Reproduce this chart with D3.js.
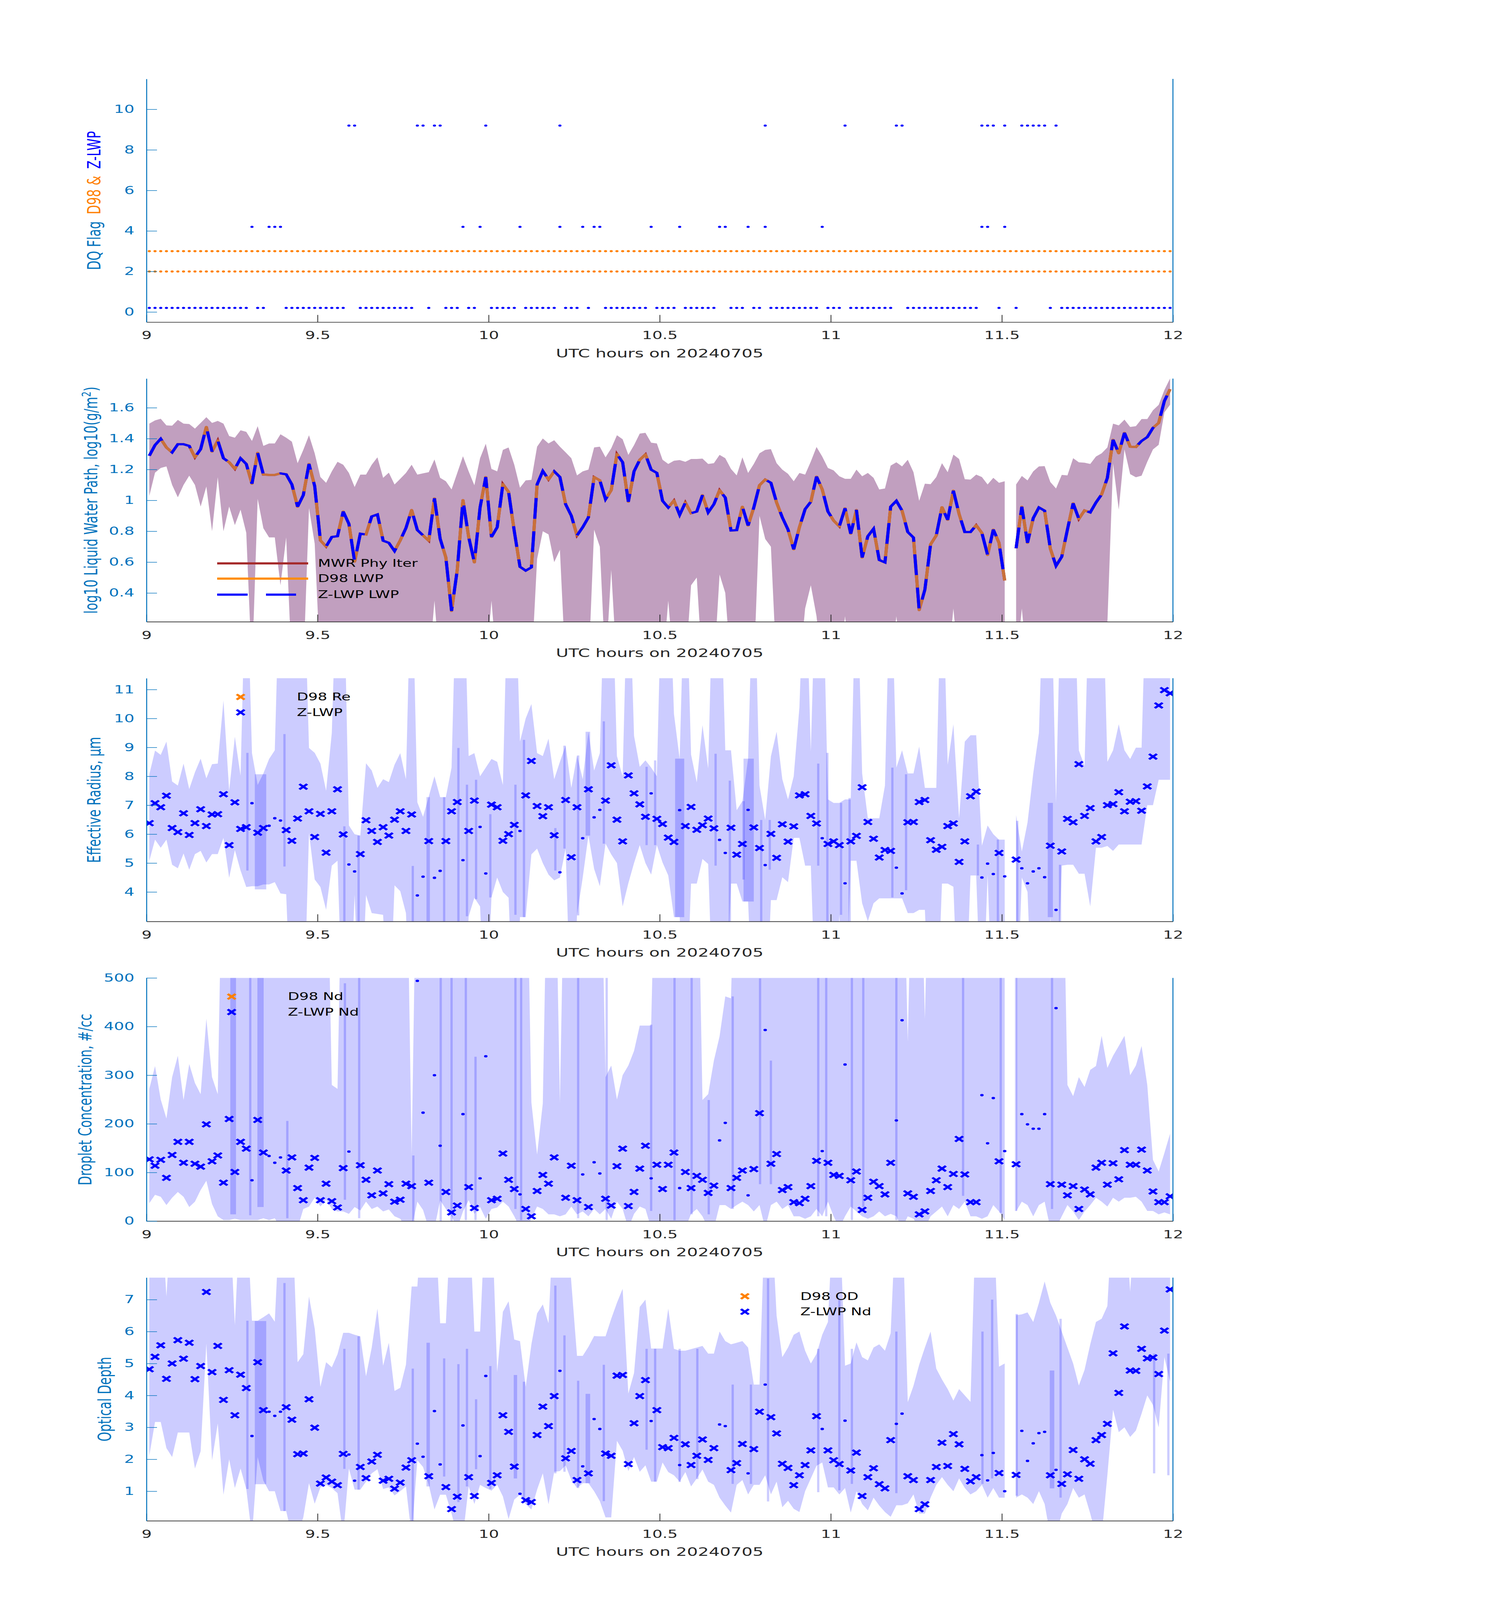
<!DOCTYPE html>
<html>
<head>
<meta charset="utf-8">
<script src="https://cdn.jsdelivr.net/npm/d3@7"></script>
<style>html,body{margin:0;padding:0;background:#fff;overflow:hidden}svg{display:block}</style>
</head>
<body>
<script>
// ---- time grid: one sample per minute, centred on the minute, 09:00-12:00 UTC
const nMin = 180;
const startHour = 9;
const xTicks = [9, 9.5, 10, 10.5, 11, 11.5, 12];

// ---- panel 1: quality flags
const d98FlagLevels = [2, 3];
const zFlagOffset = 0.2;
const zFlag4 = [18,21,22,23,55,58,65,72,76,78,79,88,93,100,101,105,108,118,146,147,150];
const zFlag9 = [35,36,47,48,50,51,59,72,108,122,131,132,146,147,148,150,153,154,155,156,157,159];
const noData = [151];

// ---- panel 2: log10 LWP
const lwpZ = [1.289,1.358,1.399,1.343,1.311,1.364,1.364,1.353,1.279,1.332,
 1.476,1.316,1.388,1.273,1.247,1.204,1.273,1.236,1.108,1.308,
 1.167,1.165,1.165,1.175,1.169,1.103,0.959,1.034,1.236,1.092,
 0.741,0.701,0.763,0.768,0.928,0.848,0.603,0.784,0.779,0.896,
 0.909,0.739,0.725,0.672,0.741,0.821,0.938,0.808,0.773,0.739,
 1.013,0.752,0.630,0.284,0.550,1.002,0.763,0.598,0.954,1.151,
 0.763,0.826,1.105,1.055,0.800,0.570,0.545,0.566,1.103,1.190,
 1.135,1.188,1.151,0.975,0.901,0.773,0.826,0.890,1.151,1.130,
 1.007,1.066,1.300,1.247,0.991,1.188,1.263,1.298,1.199,1.178,
 0.997,0.954,0.999,0.906,0.986,0.917,0.928,1.034,0.922,0.975,
 1.066,1.018,0.805,0.807,0.959,0.837,0.954,1.098,1.135,1.114,
 0.986,0.890,0.811,0.683,0.826,0.943,0.991,1.154,1.071,0.928,
 0.869,0.832,0.949,0.784,0.938,0.630,0.768,0.816,0.614,0.598,
 0.959,0.997,0.933,0.795,0.759,0.289,0.422,0.715,0.773,0.956,
 0.874,1.063,0.912,0.795,0.795,0.839,0.789,0.646,0.811,0.725,
 0.481,null,0.690,0.959,0.725,0.885,0.954,0.933,0.688,0.576,
 0.635,0.811,0.981,0.880,0.935,0.922,0.986,1.039,1.146,1.393,
 1.305,1.438,1.348,1.346,1.385,1.410,1.470,1.502,1.644,1.720];
const lwpD98 = lwpZ;   // D98 and MWR retrievals sit under the Z-LWP curve
const lwpMwr = lwpZ;
const lwpUp = [1.497,1.518,1.529,1.486,1.484,1.521,1.497,1.495,1.465,1.502,
 1.539,1.502,1.515,1.497,1.417,1.406,1.454,1.444,1.385,1.481,
 1.353,1.369,1.369,1.428,1.406,1.380,1.241,1.327,1.422,1.305,
 1.151,1.114,1.188,1.250,1.231,1.178,1.087,1.167,1.167,1.231,
 1.279,1.146,1.180,1.103,1.140,1.178,1.231,1.167,1.175,1.183,
 1.265,1.146,1.124,1.071,1.178,1.286,1.188,1.098,1.273,1.367,
 1.204,1.188,1.327,1.343,1.231,1.082,1.130,1.133,1.348,1.401,
 1.369,1.390,1.348,1.311,1.273,1.162,1.188,1.199,1.343,1.348,
 1.279,1.337,1.422,1.396,1.295,1.358,1.433,1.438,1.374,1.369,
 1.263,1.236,1.257,1.261,1.250,1.268,1.268,1.271,1.236,1.241,
 1.295,1.273,1.204,1.162,1.279,1.178,1.236,1.305,1.327,1.332,
 1.241,1.199,1.172,1.124,1.178,1.167,1.252,1.346,1.284,1.210,
 1.194,1.156,1.140,1.140,1.199,1.156,1.178,1.146,1.071,1.077,
 1.225,1.247,1.220,1.263,1.183,0.997,1.108,1.105,1.151,1.241,
 1.183,1.297,1.268,1.137,1.135,1.167,1.151,1.103,1.146,1.114,
 1.124,null,1.103,1.158,1.130,1.188,1.220,1.222,1.119,1.077,
 1.165,1.162,1.273,1.247,1.244,1.236,1.284,1.305,1.343,1.497,
 1.486,1.523,1.476,1.481,1.527,1.527,1.584,1.619,1.715,1.790];
const lwpLo = [1.03,1.18,1.21,1.22,1.10,1.02,1.10,1.16,1.10,0.96,
 1.09,0.80,1.15,0.80,0.96,0.84,0.94,0.79,-0.1,1.01,
 0.82,0.76,0.76,0.45,0.76,-0.1,-0.1,-0.1,0.95,0.72,
 -0.1,-0.1,-0.1,-0.1,-0.1,-0.1,-0.1,-0.1,-0.1,-0.1,
 -0.1,-0.1,-0.1,-0.1,-0.1,-0.1,-0.1,-0.1,-0.1,-0.1,
 0.35,-0.1,-0.1,-0.1,-0.1,-0.1,-0.1,-0.1,-0.1,-0.1,
 0.35,-0.1,-0.1,-0.1,-0.1,-0.1,-0.1,-0.1,0.62,0.80,
 0.78,0.60,0.68,-0.1,-0.1,-0.1,-0.1,-0.1,0.81,0.70,
 -0.1,0.55,-0.1,-0.1,-0.1,-0.1,-0.1,-0.1,-0.1,-0.1,
 -0.1,0.35,-0.1,-0.1,-0.1,0.45,0.50,-0.1,-0.1,-0.1,
 0.52,0.40,-0.1,-0.1,-0.1,-0.1,-0.1,0.90,0.75,0.70,
 -0.1,-0.1,-0.1,-0.1,-0.1,0.30,0.45,0.25,-0.1,-0.1,
 -0.1,-0.1,0.25,-0.1,-0.1,-0.1,-0.1,-0.1,-0.1,-0.1,
 -0.1,0.25,-0.1,-0.1,-0.1,-0.1,-0.1,-0.1,-0.1,-0.1,
 -0.1,0.30,-0.1,-0.1,-0.1,-0.1,-0.1,-0.1,-0.1,-0.1,
 -0.1,null,-0.1,0.30,-0.1,-0.1,-0.1,-0.1,-0.1,-0.1,
 -0.1,-0.1,-0.1,-0.1,-0.1,-0.1,-0.1,-0.1,0.20,1.24,
 0.94,1.33,1.17,1.15,1.16,1.25,1.33,1.36,1.57,1.62];

// ---- panel 3: effective radius (um)
const reZ = [6.38,7.07,6.93,7.33,6.21,6.07,6.72,5.97,6.38,6.86,
 6.28,6.68,6.69,7.38,5.62,7.10,6.18,6.24,7.07,6.05,
 6.21,6.29,6.55,6.47,6.14,5.77,6.54,7.64,6.79,5.90,
 6.70,5.36,6.79,7.55,5.99,4.95,4.71,5.31,6.48,6.11,
 5.73,6.24,5.95,6.50,6.79,6.11,6.68,3.88,4.53,5.76,
 4.49,4.73,5.76,6.79,7.11,5.10,6.11,7.16,6.25,4.64,
 7.02,6.93,5.77,6.00,6.32,6.11,7.34,8.53,6.97,6.62,
 6.93,5.96,4.68,7.18,5.20,6.93,5.86,7.55,6.58,6.84,
 7.16,8.38,6.50,5.75,8.03,7.41,7.03,6.60,7.41,6.53,
 6.35,5.88,5.73,6.83,6.28,6.94,6.15,6.31,6.54,6.20,
 5.80,5.35,6.22,5.29,5.66,6.84,6.23,5.52,4.93,6.01,
 5.18,6.34,5.74,6.27,7.34,7.38,6.63,6.37,5.86,5.66,
 5.75,5.62,4.30,5.75,5.94,7.62,6.42,5.84,5.19,5.45,
 5.42,4.84,3.95,6.41,6.42,7.11,7.18,5.79,5.46,5.56,
 6.28,6.37,5.04,5.75,7.31,7.47,4.50,4.98,4.62,5.35,
 4.54,null,5.12,4.82,4.30,4.71,4.82,4.51,5.60,3.38,
 5.40,6.53,6.41,8.42,6.63,6.90,5.75,5.90,7.00,7.04,
 7.45,6.79,7.12,7.14,6.81,7.65,8.68,10.45,10.98,10.87];
const reUp = [8.07,8.89,8.74,9.20,7.82,7.68,8.44,7.56,8.14,8.61,
 7.93,8.42,8.44,10.62,7.50,9.37,8.02,16,8.80,7.70,
 8.10,8.60,8.90,16,16,16,16,16,8.98,8.81,
 8.44,7.50,9.50,16,16,6.30,6.00,5.95,8.45,8.20,
 7.60,7.90,7.80,8.40,8.80,7.90,16,7.10,6.60,7.30,
 8.00,7.28,7.28,8.30,16,16,8.70,8.80,8.00,8.30,
 8.60,8.50,7.70,16,16,9.20,10.00,10.50,8.80,8.70,
 9.30,7.90,8.50,9.06,7.60,8.72,7.90,9.54,8.20,8.80,
 16,16,8.70,8.00,16,9.40,8.33,8.55,8.30,8.00,
 16,16,10.16,8.60,16,8.75,7.79,9.77,8.27,16,
 16,8.90,8.90,6.83,7.14,8.61,16,7.68,6.49,8.69,
 9.54,7.90,7.20,8.00,10.39,16,8.86,16,16,7.20,
 7.08,7.08,7.20,7.20,16,8.10,6.55,6.55,6.55,7.68,
 16,8.30,8.90,8.10,8.10,9.03,7.60,7.60,7.60,16,
 8.40,9.80,6.55,9.20,9.42,9.42,5.60,6.30,6.00,5.81,
 5.81,null,6.66,5.40,6.40,8.10,9.50,16,16,7.08,
 16,16,16,8.90,8.36,16,16,16,8.50,8.90,
 9.80,8.90,8.60,8.99,8.99,16,16,16,16,16];
const reLo = [5.08,5.81,5.53,5.81,4.94,4.82,5.33,4.77,5.31,5.42,
 5.02,5.31,5.31,5.87,4.49,5.45,4.74,4.17,4.20,4.20,
 4.26,4.26,4.34,3.95,3.92,-1,-1,-1,6.04,4.43,
 4.17,3.38,4.91,5.08,-1,-1,3.90,-1,3.89,3.27,
 3.24,3.21,-1,4.23,4.03,3.27,-1,-1,-1,-1,
 -1,-1,-1,-1,-1,-1,3.16,3.80,3.50,-1,
 3.81,4.50,4.00,3.80,-1,3.13,3.13,5.30,5.50,5.00,
 4.60,4.40,4.50,5.50,-1,3.19,4.50,5.95,4.80,4.20,
 5.67,5.30,5.00,3.50,4.30,5.00,5.62,5.00,4.60,5.62,
 5.02,4.57,3.13,3.13,-1,4.29,4.29,5.14,4.97,-1,
 -1,-1,4.29,4.29,3.67,3.67,-1,-1,-1,3.72,
 3.72,4.51,4.34,5.87,5.87,4.91,4.91,-1,-1,-1,
 -1,3.21,-1,5.08,5.08,3.61,2.99,3.61,3.78,3.78,
 3.78,3.78,3.78,3.27,3.27,3.38,3.38,-1,-1,4.29,
 4.29,4.18,-1,-1,4.57,4.57,-1,4.60,-1,-1,
 -1,null,-1,4.50,4.00,-1,-1,-1,3.13,-1,
 4.91,4.94,4.94,4.63,4.63,3.50,5.53,5.53,5.59,5.42,
 5.64,5.64,5.64,5.64,5.64,7.00,7.00,7.88,7.88,7.88];
// overlapping uncertainty patches: [minute position, low, high, width in minutes]
const reBars = [[17.7,4.74,8.81,0.4],[20.0,4.09,8.07,2.0],[24.2,4.88,9.46,0.4],[34.7,-1,6.27,0.4],
 [37.2,-1,5.95,0.4],[46.7,-1,4.90,0.4],[49.4,-1,7.28,0.6],[52.2,-1,7.28,0.4],[54.7,-1,8.98,0.4],
 [56.2,3.16,7.71,0.4],[57.8,3.75,7.88,0.4],[60.3,3.81,6.69,0.4],[64.7,3.21,7.71,0.4],[66.2,3.13,9.26,0.4],
 [71.7,4.74,6.21,0.4],[73.3,5.50,9.06,0.4],[75.7,3.19,8.72,0.4],[77.4,5.95,9.54,0.8],[80.2,5.67,9.90,0.4],
 [87.7,5.62,8.33,0.4],[89.2,5.62,8.55,0.4],[93.5,3.13,8.61,1.6],[99.8,4.91,8.78,0.4],[102.3,-1,7.85,0.4],
 [105.6,3.67,8.61,1.8],[104.7,4.43,7.14,0.4],[107.8,-1,6.49,0.4],[109.3,4.77,6.49,0.4],[117.8,4.91,8.44,0.4],
 [119.4,-1,8.81,0.4],[121.8,3.21,7.08,0.4],[123.3,-1,7.25,0.4],[130.8,3.81,8.30,0.4],[133.2,4.06,8.07,0.4],
 [145.8,4.57,5.64,0.4],[149.3,-1,5.81,0.4],[152.7,-1,6.46,0.4],[158.5,3.13,7.08,0.9],[160.2,-1,4.94,0.4]];

// ---- panel 4: droplet concentration (#/cc)
const ndZ = [127,114,126,89,136,163,120,163,118,112,
 199,123,135,79,210,101,163,149,84,208,
 141,134,120,131,104,131,68,43,110,130,
 43,77,41,28,109,143,null,115,85,53,
 104,57,76,40,44,77,72,494,223,79,
 300,155,60,18,32,220,70,27,88,339,
 43,46,139,85,66,55,25,10,62,95,
 77,131,null,48,114,43,96,29,121,98,
 46,32,113,149,31,60,108,155,88,116,
 66,116,141,68,101,68,93,85,58,73,
 166,202,68,89,104,53,107,222,393,118,
 138,64,70,39,37,46,72,124,144,120,
 95,93,322,84,102,23,48,81,72,55,
 120,207,413,57,50,14,20,62,84,108,
 70,97,169,96,39,39,259,160,253,123,
 144,null,117,220,199,190,190,220,76,438,
 75,53,72,25,65,55,110,120,75,119,
 86,146,116,116,147,104,61,39,39,51];
const ndUp = [272,319,250,211,296,340,249,323,284,261,
 416,296,261,900,900,900,900,900,900,900,
 900,900,900,900,900,900,900,900,900,900,
 900,900,280,272,900,900,900,900,900,900,
 900,900,900,900,900,900,135,900,900,900,
 900,900,900,900,900,900,900,900,900,900,
 900,900,900,900,900,900,900,244,137,242,
 900,900,243,900,900,900,900,900,900,900,
 296,320,250,300,320,350,402,402,402,900,
 900,900,900,900,900,900,900,249,261,330,
 380,462,458,900,900,900,900,900,900,900,
 900,900,900,900,900,900,900,900,900,900,
 900,900,900,900,900,900,900,900,900,900,
 900,900,900,369,900,900,416,900,900,900,
 900,900,900,900,900,900,900,900,900,900,
 900,null,900,900,900,900,900,900,900,900,
 900,280,257,296,276,311,319,381,315,340,
 360,381,300,320,360,280,126,102,140,180];
const ndLo = [37,54,50,33,48,60,50,29,40,64,
 83,35,10,2,2,5,2,2,2,2,
 6,2,6,-15,-15,-15,-15,25,30,48,
 30,44,25,20,20,15,29,22,40,25,
 30,20,24,10,5,-15,-15,40,23,-15,
 -15,43,25,10,-15,20,43,15,29,5,
 25,28,40,30,10,-15,-15,5,30,25,
 14,14,10,14,30,14,20,10,25,14,
 25,5,40,25,-15,15,30,25,-15,-15,
 -15,-15,-15,-15,-15,15,25,10,-15,-15,
 33,33,25,33,40,33,20,33,-15,33,
 40,25,33,10,10,5,10,25,10,40,
 10,-15,10,30,20,10,5,10,20,10,
 15,10,-15,10,5,-15,-15,10,20,30,
 10,33,25,40,10,10,5,10,33,20,
 2,null,20,40,33,10,33,40,-15,-15,
 10,33,20,2,20,33,48,40,30,48,
 40,48,48,50,40,21,21,14,18,14];
const ndBars = [[15.2,14,900,1.0],[18.2,12,900,0.4],[20.0,29,900,1.1],[24.7,6,206,0.4],[34.8,44,489,0.4],
 [37.3,6,900,0.4],[46.8,-15,135,0.4],[51.6,-15,900,0.4],[53.5,-15,900,0.4],[56.0,2,900,0.4],
 [57.7,2,338,0.4],[64.7,25,900,0.4],[65.7,2,900,0.4],[75.7,6,900,0.4],[80.7,2,900,0.4],
 [88.5,21,404,0.4],[92.6,2,900,0.4],[95.6,14,900,0.4],[98.6,14,249,0.4],[102.8,25,462,0.4],
 [107.6,76,499,0.4],[109.5,76,330,0.4],[117.8,10,900,0.4],[119.2,10,900,0.4],[123.7,2,900,0.4],
 [125.7,29,900,0.4],[131.5,2,900,0.4],[143.2,52,900,0.4],[149.8,17,900,0.4],[152.5,21,900,0.4],
 [158.8,25,900,0.4]];

// ---- panel 5: optical depth
const odZ = [4.82,5.21,5.57,4.52,5.00,5.73,5.15,5.65,4.51,4.92,
 7.24,4.73,5.55,3.86,4.79,3.38,4.65,4.23,2.73,5.04,
 3.54,3.49,3.36,3.49,3.63,3.24,2.16,2.18,3.88,2.99,
 1.24,1.43,1.30,1.19,2.17,2.15,1.33,1.76,1.41,1.93,
 2.14,1.33,1.39,1.08,1.27,1.74,1.97,2.49,2.08,1.47,
 3.51,1.84,1.13,0.44,0.83,3.06,1.44,0.85,2.10,4.61,
 1.26,1.50,3.38,2.86,1.77,0.92,0.72,0.66,2.76,3.65,
 3.04,3.98,4.77,2.03,2.26,1.35,1.78,1.56,3.26,2.95,
 2.18,2.11,4.62,4.64,1.85,3.13,3.98,4.48,3.20,3.54,
 2.38,2.35,2.67,1.82,2.47,1.82,2.11,2.62,1.98,2.35,
 3.09,3.04,1.66,1.88,2.48,1.56,2.32,3.49,4.34,3.32,
 2.81,1.86,1.73,1.19,1.50,1.82,2.28,3.35,2.95,2.28,
 1.97,1.85,3.21,1.65,2.21,0.85,1.44,1.72,1.22,1.09,
 2.60,3.11,3.43,1.47,1.35,0.44,0.59,1.35,1.76,2.52,
 1.79,2.79,2.47,1.70,1.31,1.44,2.13,1.34,2.20,1.57,
 1.00,null,1.51,2.89,1.95,2.50,2.82,2.86,1.50,1.67,
 1.23,1.53,2.29,1.39,2.00,1.86,2.60,2.76,3.11,5.32,
 4.08,6.16,4.78,4.77,5.46,5.16,5.19,4.67,6.03,7.32];
const odUp = [10,10,10,7.1,10,10,10,10,10,10,
 10,10,10,10,10,6.2,10,10,6.34,6.34,
 6.45,6.57,6.31,10,10,10,5.04,5.29,7.1,6.1,
 4.27,5.04,4.88,5.29,5.96,5.96,5.9,5.85,4.6,5.5,
 6.72,4.93,5.65,4.14,4.24,4.96,7.41,7.41,10,10,
 10,6.26,6.26,10,10,10,10,6.0,6.0,10,
 10,4.73,6.62,6.95,5.75,5.70,4.27,5.6,6.57,6.85,
 6.26,10,10,10,7.54,5.24,5.24,5.52,5.86,5.85,
 5.85,6.4,6.9,7.34,4.06,4.7,6.77,7.0,5.47,5.47,
 5.47,6.72,5.46,5.40,5.40,5.45,5.50,5.55,5.31,5.31,
 6.0,5.7,5.6,5.65,5.7,5.5,4.34,4.34,10,10,
 6.5,5.2,5.5,5.9,6.0,5.4,5.0,5.3,5.9,6.3,
 10,10,4.93,5.0,5.66,5.2,5.1,5.5,5.6,5.4,
 5.95,10,10,3.79,4.3,4.96,5.5,6.0,4.84,4.5,
 4.2,3.84,4.2,4.0,3.8,10,10,10,10,4.9,
 5.0,null,6.51,6.54,6.6,6.3,6.9,7.57,6.9,6.5,
 6.0,5.5,5.0,4.31,4.8,5.6,6.3,6.4,6.8,10,
 10,10,7.25,10,10,10,10,10,10,10];
const odLo = [2.12,3.17,3.17,2.35,2.07,2.84,2.84,2.84,1.71,2.25,
 5.62,1.97,3.12,0.89,2.00,1.10,1.71,1.07,-0.4,2.07,
 1.33,1.00,1.00,0.38,0.38,-0.4,-0.4,0.18,1.25,0.61,
 1.12,1.20,1.10,0.94,-0.4,1.71,1.05,1.05,1.30,1.56,
 1.69,1.07,1.12,0.87,1.00,1.15,-0.4,1.97,1.76,1.20,
 0.43,0.89,0.89,0.30,-0.4,-0.4,1.15,0.60,1.20,1.10,
 1.02,1.20,0.84,0.13,0.74,0.89,0.59,0.43,1.05,1.56,
 0.59,1.61,1.63,1.81,1.35,1.10,1.25,1.25,1.00,0.69,
 0.18,0.18,2.58,2.27,1.63,2.07,1.61,1.81,1.30,1.30,
 1.90,1.60,1.50,1.30,1.60,1.15,1.40,1.68,1.30,1.20,
 0.80,0.55,0.33,1.20,1.35,0.90,1.20,1.20,1.50,0.90,
 1.30,0.50,0.70,0.45,0.35,1.00,1.40,1.80,1.90,1.12,
 1.12,0.90,1.10,0.33,1.00,0.60,0.40,0.80,0.55,0.35,
 0.20,0.56,0.56,0.62,0.90,0.30,0.30,0.80,1.20,1.44,
 1.20,1.00,1.40,1.10,0.90,1.00,1.20,0.80,1.10,0.80,
 0.80,null,0.80,0.90,0.80,0.60,1.00,0.60,-0.4,-0.4,
 0.30,0.60,1.10,0.80,0.90,0.30,-0.4,-0.4,1.50,3.55,
 2.85,3.00,2.70,2.90,3.43,4.00,3.70,3.00,5.20,4.43];
const odBars = [[17.7,1.07,6.34,0.4],[20.0,1.22,6.33,2.0],[24.2,0.38,7.52,0.4],[34.7,1.70,5.46,0.4],
 [37.2,1.05,5.85,0.4],[46.7,-0.4,4.84,0.4],[49.4,1.15,5.65,0.6],[52.2,1.46,5.16,0.4],[54.7,0.66,4.98,0.4],
 [56.2,1.15,5.46,0.4],[57.8,1.69,3.88,0.4],[60.3,1.07,4.92,0.4],[64.7,1.40,4.64,0.6],[66.2,0.69,4.43,0.4],
 [71.7,1.56,7.44,0.4],[73.3,1.61,5.88,0.4],[75.7,1.10,4.46,0.4],[77.4,1.25,4.05,0.8],[80.2,0.69,4.96,0.4],
 [87.7,2.30,5.46,0.4],[89.2,1.30,5.46,0.4],[93.5,1.29,5.46,0.4],[96.6,1.38,5.46,0.4],[102.8,1.23,4.34,0.4],
 [106.0,1.23,4.34,0.4],[109.0,0.68,7.66,0.4],[117.8,0.97,5.46,0.4],[121.5,1.03,7.00,0.4],[123.7,1.23,5.46,0.4],
 [131.5,0.94,6.00,0.4],[146.6,1.23,6.00,0.4],[148.3,1.40,7.00,0.4],[152.6,0.86,6.55,0.4],[158.8,1.09,4.78,0.8],
 [160.3,0.80,6.40,0.4],[176.7,1.56,5.31,0.4],[179.2,1.50,5.31,0.4]];

// ---- layout (drawn in the 3825x6000 figure frame)
const W = 3825, H = 6000;
const plotLeft = 375, plotWidth = 2628, plotHeight = 912;
const firstTop = 296, panelStep = 1123.75;
const font = "DejaVu Sans";
const axisBlue = "#0072bd", dark = "#262626";
const blue = "#0000ff", orange = "#ff8000";

const minutes = d3.range(nMin);
const hourOf = i => startHour + (i + 0.5) / 60;
const flagged = new Set(zFlag4.concat(zFlag9));

// the window the page gets is shorter than the figure, so the whole
// figure frame is fitted into it (viewBox keeps every panel on screen)
const viewH = Math.min(H, window.innerHeight || H);
const svg = d3.select("body").append("svg")
  .attr("width", W).attr("height", viewH)
  .attr("viewBox", `0 0 ${W} ${H}`)
  .attr("preserveAspectRatio", "none")
  .style("background", "#fff");
svg.append("rect").attr("width", W).attr("height", H).attr("fill", "#fff");

function makePanel(k, domain) {
  const top = firstTop + k * panelStep;
  const g = svg.append("g").attr("transform", `translate(${plotLeft},${top})`);
  const x = d3.scaleLinear().domain([9, 12]).range([0, plotWidth]);
  const y = d3.scaleLinear().domain(domain).range([plotHeight, 0]);
  const id = "clip" + k;
  g.append("clipPath").attr("id", id)
    .append("rect").attr("width", plotWidth).attr("height", plotHeight);
  const plot = g.append("g").attr("clip-path", `url(#${id})`);
  return {g, plot, x, y, top};
}

// axes drawn last so they sit over the bands
function drawAxes(p, yTicks, labelX) {
  const xa = p.g.append("g").attr("transform", `translate(0,${plotHeight})`)
    .call(d3.axisBottom(p.x).tickValues(xTicks).tickSize(-27).tickSizeOuter(0)
      .tickPadding(35).tickFormat(d3.format("~g")));
  xa.attr("color", dark).attr("font-family", font).attr("font-size", 41);
  xa.select(".domain").attr("stroke-width", 2.5);
  xa.selectAll(".tick line").attr("stroke-width", 2);

  const ya = p.g.append("g")
    .call(d3.axisLeft(p.y).tickValues(yTicks).tickSize(-27).tickSizeOuter(0)
      .tickPadding(31).tickFormat(d3.format("~g")));
  ya.attr("color", axisBlue).attr("font-family", font).attr("font-size", 41);
  ya.select(".domain").attr("stroke-width", 2.5);
  ya.selectAll(".tick line").attr("stroke-width", 2);

  p.g.append("line")
    .attr("x1", plotWidth).attr("x2", plotWidth).attr("y1", 0).attr("y2", plotHeight)
    .attr("stroke", axisBlue).attr("stroke-width", 2.5);

  p.g.append("text")
    .attr("x", plotWidth / 2).attr("y", plotHeight + 132)
    .attr("text-anchor", "middle").attr("font-family", font).attr("font-size", 44)
    .attr("fill", dark).text("UTC hours on 20240705");

  return p.g.append("text")
    .attr("transform", `translate(${labelX - plotLeft},${plotHeight / 2}) rotate(-90)`)
    .attr("text-anchor", "middle").attr("dy", "0.35em")
    .attr("font-family", font).attr("font-size", 46).attr("fill", axisBlue);
}

function xMark(sel, cx, cy, color) {
  sel.append("path")
    .attr("d", `M${cx - 10},${cy - 10}L${cx + 10},${cy + 10}M${cx - 10},${cy + 10}L${cx + 10},${cy - 10}`)
    .attr("fill", "none").attr("stroke", color).attr("stroke-width", 7);
}

// ---------- panel 1: DQ flags
{
  const p = makePanel(0, [-0.5, 11.5]);
  d98FlagLevels.forEach(lv => {
    p.plot.append("g").selectAll("circle").data(minutes).join("circle")
      .attr("cx", i => p.x(hourOf(i))).attr("cy", p.y(lv)).attr("r", 4).attr("fill", orange);
  });
  const good = minutes.filter(i => !flagged.has(i) && !noData.includes(i));
  [[good, 0], [zFlag4, 4], [zFlag9, 9]].forEach(([list, lv]) => {
    p.plot.append("g").selectAll("circle").data(list).join("circle")
      .attr("cx", i => p.x(hourOf(i))).attr("cy", p.y(lv + zFlagOffset)).attr("r", 4).attr("fill", blue);
  });
  const lab = drawAxes(p, [0, 2, 4, 6, 8, 10], 241);
  lab.append("tspan").attr("fill", axisBlue).text("DQ Flag");
  lab.append("tspan").attr("fill", orange).attr("dx", 26).text("D98 &");
  lab.append("tspan").attr("fill", blue).attr("dx", 26).text("Z-LWP");
}

// ---------- panel 2: LWP
{
  const p = makePanel(1, [0.2135, 1.789]);
  const area = d3.area()
    .defined(i => lwpUp[i] != null && lwpLo[i] != null)
    .x(i => p.x(hourOf(i))).y0(i => p.y(lwpLo[i])).y1(i => p.y(lwpUp[i]));
  p.plot.append("path").datum(minutes).attr("d", area).attr("fill", "#c19fbf");

  const lineOf = arr => d3.line().defined(i => arr[i] != null)
    .x(i => p.x(hourOf(i))).y(i => p.y(arr[i]));
  p.plot.append("path").datum(minutes).attr("d", lineOf(lwpMwr))
    .attr("fill", "none").attr("stroke", "#a52a2a").attr("stroke-width", 8);
  p.plot.append("path").datum(minutes).attr("d", lineOf(lwpD98))
    .attr("fill", "none").attr("stroke", "#c9703a").attr("stroke-width", 8).attr("stroke-linejoin", "round");
  p.plot.append("path").datum(minutes).attr("d", lineOf(lwpZ))
    .attr("fill", "none").attr("stroke", blue).attr("stroke-width", 8)
    .attr("stroke-dasharray", "78,47");

  // legend
  const leg = [["MWR Phy Iter", "#a52a2a", null], ["D98 LWP", "#ff8c00", null], ["Z-LWP LWP", blue, "78,47"]];
  const rowY = [693, 750, 810];
  leg.forEach((d, j) => {
    p.g.append("line").attr("x1", 181).attr("x2", d[2] ? 383 : 414)
      .attr("y1", rowY[j]).attr("y2", rowY[j])
      .attr("stroke", d[1]).attr("stroke-width", 8).attr("stroke-dasharray", d[2]);
    p.g.append("text").attr("x", 439).attr("y", rowY[j]).attr("dy", "0.35em")
      .attr("font-family", font).attr("font-size", 38).attr("fill", "#000").text(d[0]);
  });

  const lab = drawAxes(p, [0.4, 0.6, 0.8, 1, 1.2, 1.4, 1.6], 233);
  lab.append("tspan").text("log10 Liquid Water Path, log10(g/m");
  lab.append("tspan").attr("dy", -17).attr("font-size", 32).text("2");
  lab.append("tspan").attr("dy", 17).text(")");
}

// ---------- panels 3-5: retrieval scatter with uncertainty bands
function scatterPanel(k, domain, yTicks, vals, up, lo, bars, labelText, labelX, legendNames, legendX, legendTextX) {
  const p = makePanel(k, domain);
  const area = d3.area()
    .defined(i => up[i] != null && lo[i] != null)
    .x(i => p.x(hourOf(i))).y0(i => p.y(lo[i])).y1(i => p.y(up[i]));
  p.plot.append("path").datum(minutes).attr("d", area)
    .attr("fill", blue).attr("fill-opacity", 0.2);

  const minW = p.x(startHour + 1 / 60) - p.x(startHour);
  p.plot.append("g").selectAll("rect").data(bars).join("rect")
    .attr("x", b => p.x(startHour + (b[0] - b[3] / 2) / 60))
    .attr("width", b => b[3] * minW)
    .attr("y", b => p.y(b[2]))
    .attr("height", b => p.y(b[1]) - p.y(b[2]))
    .attr("fill", blue).attr("fill-opacity", 0.2);

  const marks = p.plot.append("g");
  minutes.forEach(i => {
    if (vals[i] == null) return;
    const cx = p.x(hourOf(i)), cy = p.y(vals[i]);
    if (flagged.has(i)) {
      marks.append("circle").attr("cx", cx).attr("cy", cy).attr("r", 4.5).attr("fill", blue);
    } else {
      xMark(marks, cx, cy, blue);
    }
  });

  const rows = [70, 128];
  [[legendNames[0], orange], [legendNames[1], blue]].forEach((d, j) => {
    xMark(p.g, legendX, rows[j], d[1]);
    p.g.append("text").attr("x", legendTextX).attr("y", rows[j]).attr("dy", "0.35em")
      .attr("font-family", font).attr("font-size", 38).attr("fill", "#000").text(d[0]);
  });

  const lab = drawAxes(p, yTicks, labelX);
  lab.text(labelText);
}

scatterPanel(2, [2.98, 11.39], [4, 5, 6, 7, 8, 9, 10, 11], reZ, reUp, reLo, reBars,
  "Effective Radius, \u03bcm", 241, ["D98 Re", "Z-LWP"], 241, 385);
scatterPanel(3, [0, 500], [0, 100, 200, 300, 400, 500], ndZ, ndUp, ndLo, ndBars,
  "Droplet Concentration, #/cc", 218, ["D98 Nd", "Z-LWP Nd"], 218, 362);
scatterPanel(4, [0.074, 7.69], [1, 2, 3, 4, 5, 6, 7], odZ, odUp, odLo, odBars,
  "Optical Depth", 268, ["D98 OD", "Z-LWP Nd"], 1532, 1674);
</script>
</body>
</html>
